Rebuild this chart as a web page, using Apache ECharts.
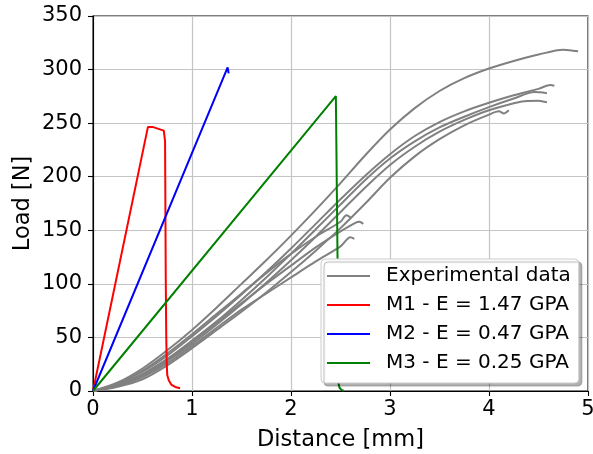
<!DOCTYPE html>
<html>
<head>
<meta charset="utf-8">
<script src="https://cdn.jsdelivr.net/npm/echarts@6/dist/echarts.min.js"></script>
<style>
  html, body { margin: 0; padding: 0; background: #fff; }
  #chart { width: 593px; height: 454px; }
</style>
</head>
<body>
<div id="chart"></div>
<script>
// experimental curves, [distance mm, load N]
var expA = [[0,0],[0.25,8],[0.5,21],[0.75,38],[1,57],[1.25,78],[1.5,100],[1.75,122],[2,145],[2.25,169],[2.5,194],[2.75,220],[3,244],[3.25,264],[3.5,280],[3.75,292],[4,301],[4.25,308],[4.5,314],[4.75,318.5],[4.9,317]];
var expB = [[0,0],[0.25,7],[0.5,18],[0.75,33],[1,51],[1.25,70],[1.5,90],[1.75,111],[2,133],[2.25,156],[2.5,179],[2.75,201],[3,221],[3.25,238],[3.5,251],[3.75,261],[4,269],[4.25,276],[4.5,282],[4.62,285.5],[4.66,285]];
var expC = [[0,0],[0.25,6],[0.5,16],[0.75,30],[1,47],[1.25,65],[1.5,85],[1.75,106],[2,128],[2.25,151],[2.5,174],[2.75,197],[3,217],[3.25,233],[3.5,246],[3.75,256],[4,265],[4.25,273],[4.46,279],[4.585,278]];
var expD = [[0,0],[0.25,5],[0.5,14],[0.75,28],[1,44],[1.25,62],[1.5,81],[1.75,101],[2,122],[2.25,144],[2.5,167],[2.75,190],[3,211],[3.25,228],[3.5,242],[3.75,253],[4,262],[4.32,270],[4.5,271],[4.585,269.5]];
var expE = [[0,0],[0.25,4],[0.5,11],[0.75,24],[1,40],[1.25,57],[1.5,74],[1.75,92],[2,111],[2.25,131],[2.5,152],[2.75,175],[3,199],[3.25,219],[3.5,235],[3.75,248],[4,258],[4.1,261],[4.15,259],[4.2,262]];
var expF = [[0,0],[0.25,7],[0.5,19],[0.75,35],[1,53],[1.25,72],[1.5,91],[1.75,110],[2,128],[2.25,144],[2.5,158],[2.56,164],[2.6,162]];
var expG = [[0,0],[0.25,6],[0.5,15],[0.75,29],[1,46],[1.25,64],[1.5,82],[1.75,100],[2,117],[2.25,134],[2.5,149],[2.65,157],[2.69,158],[2.73,156]];
var expH = [[0,0],[0.25,5],[0.5,13],[0.75,26],[1,42],[1.25,59],[1.5,76],[1.75,91],[2,106],[2.25,121],[2.5,135],[2.6,143.5],[2.64,142]];

// model curves
var m1 = [[0,0],[0.555,246.5],[0.575,247.5],[0.6,246.5],[0.715,243],[0.728,233],[0.735,104],[0.74,50],[0.745,25],[0.75,15],[0.765,10],[0.79,6],[0.83,3.8],[0.88,2.5]];
var m2 = [[0,0],[1.36,302],[1.37,296.5]];
var m3 = [[0,0],[2.453,275.3],[2.456,250],[2.47,125],[2.475,40],[2.478,8],[2.49,3],[2.51,1],[2.53,0.5]];

var expName = 'Experimental data';
var modelNames = ['M1 - E = 1.47 GPA', 'M2 - E = 0.47 GPA', 'M3 - E = 0.25 GPA'];
var modelColors = ['#ff0000', '#0000ff', '#008000'];
var xTicks = [0, 1, 2, 3, 4, 5];
var yTicks = [0, 50, 100, 150, 200, 250, 300, 350];

var series = [];
[expA, expB, expC, expD, expE, expF, expG, expH].forEach(function (d) {
  series.push({
    name: expName, type: 'line', data: d, symbol: 'none', smooth: 0.3,
    lineStyle: { color: '#808080', width: 2 }, itemStyle: { color: '#808080' }
  });
});
[m1, m2, m3].forEach(function (d, i) {
  series.push({
    name: modelNames[i], type: 'line', data: d, symbol: 'none',
    lineStyle: { color: modelColors[i], width: 2 }, itemStyle: { color: modelColors[i] }
  });
});

var font = 'DejaVu Sans';
var chart = echarts.init(document.getElementById('chart'));
chart.setOption({
  animation: false,
  grid: {
    left: 93, right: 5, top: 16, bottom: 63, outerBoundsMode: 'none',
    show: true, borderColor: '#000', borderWidth: 1.1, backgroundColor: 'transparent'
  },
  xAxis: {
    type: 'value', min: xTicks[0], max: xTicks[xTicks.length - 1], interval: 1,
    name: 'Distance [mm]', nameLocation: 'middle', nameGap: 38,
    nameTextStyle: { fontFamily: font, fontSize: 22.5, color: '#000' },
    axisLine: { lineStyle: { color: '#000', width: 1.1 } },
    axisTick: { show: true, length: 5, lineStyle: { color: '#000', width: 1.1 } },
    axisLabel: { fontFamily: font, fontSize: 21, color: '#000', margin: 8 },
    splitLine: { show: true, lineStyle: { color: '#c4c4c4', width: 1.2 } }
  },
  yAxis: {
    type: 'value', min: yTicks[0], max: yTicks[yTicks.length - 1], interval: 50,
    name: 'Load [N]', nameLocation: 'middle', nameGap: 58, nameRotate: 90,
    nameMoveOverlap: false,
    nameTextStyle: { fontFamily: font, fontSize: 22.5, color: '#000' },
    axisLine: { show: true, lineStyle: { color: '#000', width: 1.1 } },
    axisTick: { show: true, length: 5, lineStyle: { color: '#000', width: 1.1 } },
    axisLabel: { fontFamily: font, fontSize: 21, color: '#000', margin: 11 },
    splitLine: { show: true, lineStyle: { color: '#c4c4c4', width: 1.2 } }
  },
  legend: {
    data: [expName].concat(modelNames),
    orient: 'vertical', left: 321, top: 259,
    selectedMode: false,
    icon: 'rect',
    itemWidth: 43, itemHeight: 2, itemGap: 9,
    padding: [7, 8, 10, 6],
    backgroundColor: '#ffffff',
    borderColor: '#cccccc', borderWidth: 1, borderRadius: 4,
    shadowColor: 'rgba(0,0,0,0.3)', shadowOffsetX: 3, shadowOffsetY: 3, shadowBlur: 1,
    textStyle: { fontFamily: font, fontSize: 20, color: '#000', padding: [0, 0, 0, 11], lineHeight: 20 }
  },
  series: series
});
</script>
</body>
</html>
